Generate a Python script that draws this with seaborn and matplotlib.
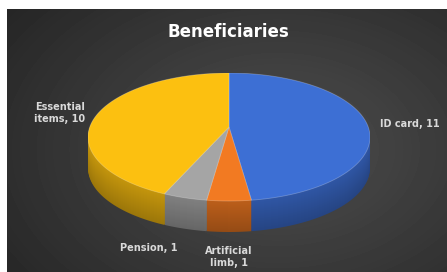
import numpy as np
import matplotlib
matplotlib.use('Agg')
import matplotlib.pyplot as plt
import seaborn as sns
from matplotlib.colors import to_rgb
from matplotlib.patches import Polygon

sns.set_style('white')
plt.rcParams['font.family'] = ['DejaVu Sans']

# chart data
categories = ['ID card', 'Artificial limb', 'Pension', 'Essential items']
values = [11, 1, 1, 10]
label_lines = ['ID card, 11', 'Artificial\nlimb, 1', 'Pension, 1', 'Essential\nitems, 10']
title = 'Beneficiaries'

top_colors = ['#3d6fd4', '#f27a22', '#a5a5a5', '#fcc010']
# label anchor points in pixels (x, y from top)
label_pos = [(410, 124), (229, 257), (149, 248), (60, 113)]

W, H = 447, 272
fig = plt.figure(figsize=(W / 100, H / 100), dpi=100)
fig.patch.set_facecolor('white')

# dark radial gradient background, with a thin white margin top/left
bg = fig.add_axes([7 / W, 0, (W - 7) / W, (H - 9) / H])
yy, xx = np.mgrid[0:H - 9, 0:W - 7]
r = np.hypot((xx - 270) / 280.0, (yy - 140) / 190.0)
shade = 0.31 - 0.16 * np.clip(r, 0, 1.2) / 1.2
bg.imshow(shade, cmap='gray', vmin=0, vmax=1, aspect='auto', interpolation='bilinear')
bg.axis('off')

# pie geometry in pixels
cx, cy, rx, ry, depth = 229, 137, 141, 64, 31
persp = 0.156  # how far the apex sits above the middle of the ellipse
ax = fig.add_axes([(cx - rx) / W, (H - (cy + ry + depth)) / H,
                   2 * rx / W, (2 * ry + depth) / H])


def shaded(col, f):
    return tuple(np.array(to_rgb(col)) * f)


def tilt(xy):
    # simple projective tilt so the far side looks smaller
    u, v = xy[:, 0], xy[:, 1]
    d = 1 + persp * v
    return np.column_stack([u * np.sqrt(1 - persp ** 2) / d, (v + persp) / d])


def wedge_outline(w):
    th = np.radians(np.linspace(w.theta1, w.theta2, 120))
    c = np.asarray(w.center)
    arc = np.column_stack([c[0] + w.r * np.cos(th), c[1] + w.r * np.sin(th)])
    return np.vstack([c, arc])


def pie_layer(colors, drop, **wkw):
    wedges, _ = ax.pie(values, colors=colors, startangle=90, counterclock=False,
                       radius=1, frame=True, wedgeprops=dict(linewidth=0))
    for w in wedges:
        poly = tilt(wedge_outline(w))
        poly[:, 1] -= drop
        w.set_visible(False)
        ax.add_patch(Polygon(poly, closed=True, facecolor=w.get_facecolor(), **wkw))


# side walls: stack of darker pies going down
for k in range(depth, 0, -1):
    f = 0.62 + 0.16 * (1 - k / depth)
    pie_layer([shaded(c, f) for c in top_colors], k / ry, linewidth=0)

# top face
pie_layer(top_colors, 0, linewidth=0.6, edgecolor=(1, 1, 1, 0.25))

ax.set_aspect('auto')
ax.set_xlim(-1, 1)
ax.set_ylim(-1 - depth / ry, 1)
ax.axis('off')

fig.text(228 / W, 1 - 32 / H, title, color='white', fontsize=12,
         fontweight='bold', ha='center', va='center')
for txt, (px, py) in zip(label_lines, label_pos):
    fig.text(px / W, 1 - py / H, txt, color='#d9d9d9', fontsize=7,
             fontweight='bold', ha='center', va='center', linespacing=1.2)

fig.savefig('out.png', dpi=100)
